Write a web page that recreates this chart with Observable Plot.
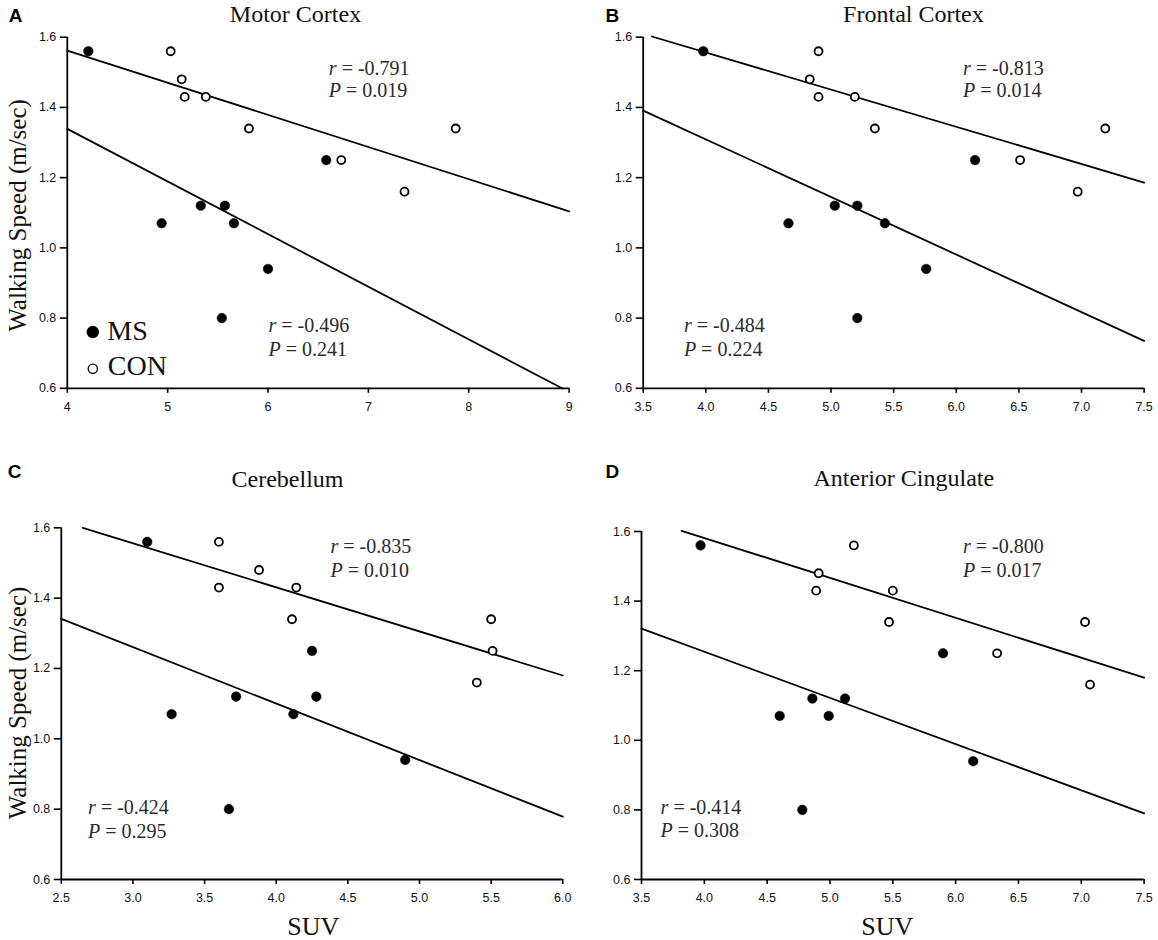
<!DOCTYPE html>
<html>
<head>
<meta charset="utf-8">
<script src="https://cdn.jsdelivr.net/npm/d3@7"></script>
<script src="https://cdn.jsdelivr.net/npm/@observablehq/plot@0.6"></script>
<style>
  body { margin: 0; background: #fff; }
  #wrap { position: relative; width: 1158px; height: 940px; background: #fff; overflow: hidden; }
  #wrap > svg { position: absolute; }
</style>
</head>
<body>
<div id="wrap"></div>
<script>
// ---------------- data ----------------
const panelLetters = ["A", "B", "C", "D"];
const panelTitles = ["Motor Cortex", "Frontal Cortex", "Cerebellum", "Anterior Cingulate"];
const groupNames = ["MS", "CON"];
const yLabel = "Walking Speed (m/sec)";
const xLabel = "SUV";

// walking speed (m/sec) per subject
const speedMS  = [1.56, 1.25, 1.12, 1.12, 1.07, 1.07, 0.94, 0.80];
const speedCON = [1.56, 1.48, 1.43, 1.43, 1.34, 1.34, 1.25, 1.16];

// SUV per subject, per region (same order as speeds)
const suvMS_A  = [4.21, 6.58, 5.33, 5.57, 4.94, 5.66, 6.00, 5.54];
const suvCON_A = [5.03, 5.14, 5.17, 5.38, 5.81, 7.87, 6.73, 7.36];
const suvMS_B  = [3.98, 6.15, 5.03, 5.21, 4.66, 5.43, 5.76, 5.21];
const suvCON_B = [4.90, 4.83, 4.90, 5.19, 5.35, 7.19, 6.51, 6.97];
const suvMS_C  = [3.10, 4.25, 3.72, 4.28, 3.27, 4.12, 4.90, 3.67];
const suvCON_C = [3.60, 3.88, 3.60, 4.14, 4.11, 5.50, 5.51, 5.40];
const suvMS_D  = [3.97, 5.90, 4.86, 5.12, 4.60, 4.99, 6.14, 4.78];
const suvCON_D = [5.19, 4.91, 4.89, 5.50, 5.47, 7.03, 6.33, 7.07];

// regression line end points [SUV, speed]
const fitMS_A  = [[4.0, 1.339], [8.93, 0.600]];
const fitCON_A = [[4.0, 1.562], [9.0, 1.104]];
const fitMS_B  = [[3.5, 1.391], [7.5, 0.735]];
const fitCON_B = [[3.57, 1.602], [7.5, 1.186]];
const fitMS_C  = [[2.5, 1.341], [6.0, 0.779]];
const fitCON_C = [[2.65, 1.600], [6.0, 1.180]];
const fitMS_D  = [[3.5, 1.321], [7.5, 0.790]];
const fitCON_D = [[3.82, 1.602], [7.5, 1.180]];

// statistics
const rCON = ["-0.791", "-0.813", "-0.835", "-0.800"];
const pCON = ["0.019", "0.014", "0.010", "0.017"];
const rMS  = ["-0.496", "-0.484", "-0.424", "-0.414"];
const pMS  = ["0.241", "0.224", "0.295", "0.308"];

// axes
const xDomains = [[4, 9], [3.5, 7.5], [2.5, 6.0], [3.5, 7.5]];
const xTicksA = [4, 5, 6, 7, 8, 9];
const xTicksB = [3.5, 4.0, 4.5, 5.0, 5.5, 6.0, 6.5, 7.0, 7.5];
const xTicksC = [2.5, 3.0, 3.5, 4.0, 4.5, 5.0, 5.5, 6.0];
const xTicksD = [3.5, 4.0, 4.5, 5.0, 5.5, 6.0, 6.5, 7.0, 7.5];
const yDomain = [0.6, 1.6];
const yTicks = [0.6, 0.8, 1.0, 1.2, 1.4, 1.6];

// ---------------- layout ----------------
const layout = [
  { left: 0,   top: 0,   mL: 66.8, mR: 10.4, mT: 36.7, mB: 82.2,
    xFmt: "d", title: [-22.7, -15], letter: [-58.5, -15], yLab: [-49.3, 2.7], xLab: null,
    annCON: [6.606, 1.491, 1.430], annMS: [6.005, 0.760, 0.691], legend: true },
  { left: 579, top: 0,   mL: 63.7, mR: 14.4, mT: 36.7, mB: 82.2,
    xFmt: ".1f", title: [19.8, -15], letter: [-37.7, -15], yLab: null, xLab: null,
    annCON: [6.054, 1.491, 1.429], annMS: [3.825, 0.760, 0.691], legend: false },
  { left: 0,   top: 470, mL: 60.8, mR: 16.7, mT: 57.3, mB: 61,
    xFmt: ".1f", title: [-24.5, -40.6], letter: [-53.5, -50], yLab: [-43.3, -0.7], xLab: [1.3, 55.5],
    annCON: [4.379, 1.528, 1.460], annMS: [2.687, 0.786, 0.719], legend: false },
  { left: 579, top: 470, mL: 62, mR: 14.4, mT: 61, mB: 61,
    xFmt: ".1f", title: [11, -46], letter: [-36, -53.3], yLab: null, xLab: [-5.6, 55.5],
    annCON: [6.059, 1.539, 1.469], annMS: [3.652, 0.789, 0.722], legend: false }
];

const legendMS = { cx: 4.254, cy: 0.760, tx: 4.398, ty: 0.738 };
const legendCON = { cx: 4.254, cy: 0.6556, tx: 4.404, ty: 0.6365 };

const serif = "Liberation Serif, Times New Roman, serif";
const sans = "Liberation Sans, Arial, Helvetica, sans-serif";

const suvMS = [suvMS_A, suvMS_B, suvMS_C, suvMS_D];
const suvCON = [suvCON_A, suvCON_B, suvCON_C, suvCON_D];
const fitMS = [fitMS_A, fitMS_B, fitMS_C, fitMS_D];
const fitCON = [fitCON_A, fitCON_B, fitCON_C, fitCON_D];
const xTicks = [xTicksA, xTicksB, xTicksC, xTicksD];

const wrap = document.getElementById("wrap");
const W = 579, H = 470;

layout.forEach((L, i) => {
  const ms = suvMS[i].map((s, j) => ({ x: s, y: speedMS[j] }));
  const con = suvCON[i].map((s, j) => ({ x: s, y: speedCON[j] }));
  const ann = [
    { x: L.annCON[0], y: L.annCON[1], t: `r = ${rCON[i]}` },
    { x: L.annCON[0], y: L.annCON[2], t: `P = ${pCON[i]}` },
    { x: L.annMS[0],  y: L.annMS[1],  t: `r = ${rMS[i]}` },
    { x: L.annMS[0],  y: L.annMS[2],  t: `P = ${pMS[i]}` }
  ];
  const marks = [
    Plot.ruleX([xDomains[i][0]], { stroke: "#000", strokeWidth: 1.8 }),
    Plot.ruleY([yDomain[0]], { stroke: "#000", strokeWidth: 1.8 }),
    Plot.axisX({ ticks: xTicks[i], tickFormat: d3.format(L.xFmt), tickSize: 5, tickPadding: 9,
                 strokeWidth: 1.6, label: null, fill: "#111" }),
    Plot.axisY({ ticks: yTicks, tickFormat: d3.format(".1f"), tickSize: 7, tickPadding: 4,
                 strokeWidth: 1.6, label: null, fill: "#111" }),
    Plot.line(fitCON[i], { x: d => d[0], y: d => d[1], stroke: "#000", strokeWidth: 1.8 }),
    Plot.line(fitMS[i], { x: d => d[0], y: d => d[1], stroke: "#000", strokeWidth: 1.8 }),
    Plot.dot(ms, { x: "x", y: "y", r: 4.8, fill: "#000", stroke: "#000", strokeWidth: 0.5 }),
    Plot.dot(con, { x: "x", y: "y", r: 4.0, fill: "#fff", stroke: "#000", strokeWidth: 1.8 }),
    Plot.text(ann, { x: "x", y: "y", text: "t", textAnchor: "start", lineAnchor: "bottom",
                     fontFamily: serif, fontSize: 20, fill: "#2b2b2b" }),
    Plot.text([panelTitles[i]], { frameAnchor: "top", dx: L.title[0], dy: L.title[1],
                     lineAnchor: "bottom", fontFamily: serif, fontSize: 24, fill: "#111" }),
    Plot.text([panelLetters[i]], { frameAnchor: "top-left", dx: L.letter[0], dy: L.letter[1],
                     textAnchor: "start", lineAnchor: "bottom", fontFamily: sans, fontWeight: "bold",
                     fontSize: 19, fill: "#000" })
  ];
  if (L.yLab) {
    marks.push(Plot.text([yLabel], { frameAnchor: "left", dx: L.yLab[0], dy: L.yLab[1], rotate: -90,
      textAnchor: "middle", lineAnchor: "middle", fontFamily: serif, fontSize: 25, fill: "#111" }));
  }
  if (L.xLab) {
    marks.push(Plot.text([xLabel], { frameAnchor: "bottom", dx: L.xLab[0], dy: L.xLab[1],
      textAnchor: "middle", lineAnchor: "bottom", fontFamily: serif, fontSize: 26, fill: "#111" }));
  }
  if (L.legend) {
    marks.push(
      Plot.dot([legendMS], { x: "cx", y: "cy", r: 5.5, fill: "#000", stroke: "#000" }),
      Plot.dot([legendCON], { x: "cx", y: "cy", r: 4.6, fill: "#fff", stroke: "#000", strokeWidth: 1.3 }),
      Plot.text([{ ...legendMS, t: groupNames[0] }], { x: "tx", y: "ty", text: "t", textAnchor: "start",
        lineAnchor: "bottom", fontFamily: serif, fontSize: 28, fill: "#111" }),
      Plot.text([{ ...legendCON, t: groupNames[1] }], { x: "tx", y: "ty", text: "t", textAnchor: "start",
        lineAnchor: "bottom", fontFamily: serif, fontSize: 28, fill: "#111" })
    );
  }
  const svg = Plot.plot({
    width: W, height: H,
    marginLeft: L.mL, marginRight: L.mR, marginTop: L.mT, marginBottom: L.mB,
    x: { domain: xDomains[i] },
    y: { domain: yDomain },
    style: { fontFamily: sans, fontSize: "12.5px", color: "#000", background: "transparent", overflow: "visible" },
    marks
  });
  svg.style.left = L.left + "px";
  svg.style.top = L.top + "px";
  // italicise the statistic symbols r and P
  svg.querySelectorAll("text").forEach(el => {
    if (el.childNodes.length === 1 && el.firstChild.nodeType === 3 && /^[rP] = /.test(el.textContent)) {
      const s = el.textContent;
      el.textContent = "";
      const ts = document.createElementNS("http://www.w3.org/2000/svg", "tspan");
      ts.setAttribute("font-style", "italic");
      ts.textContent = s[0];
      el.appendChild(ts);
      el.appendChild(document.createTextNode(s.slice(1)));
    }
  });
  wrap.appendChild(svg);
});
</script>
</body>
</html>
